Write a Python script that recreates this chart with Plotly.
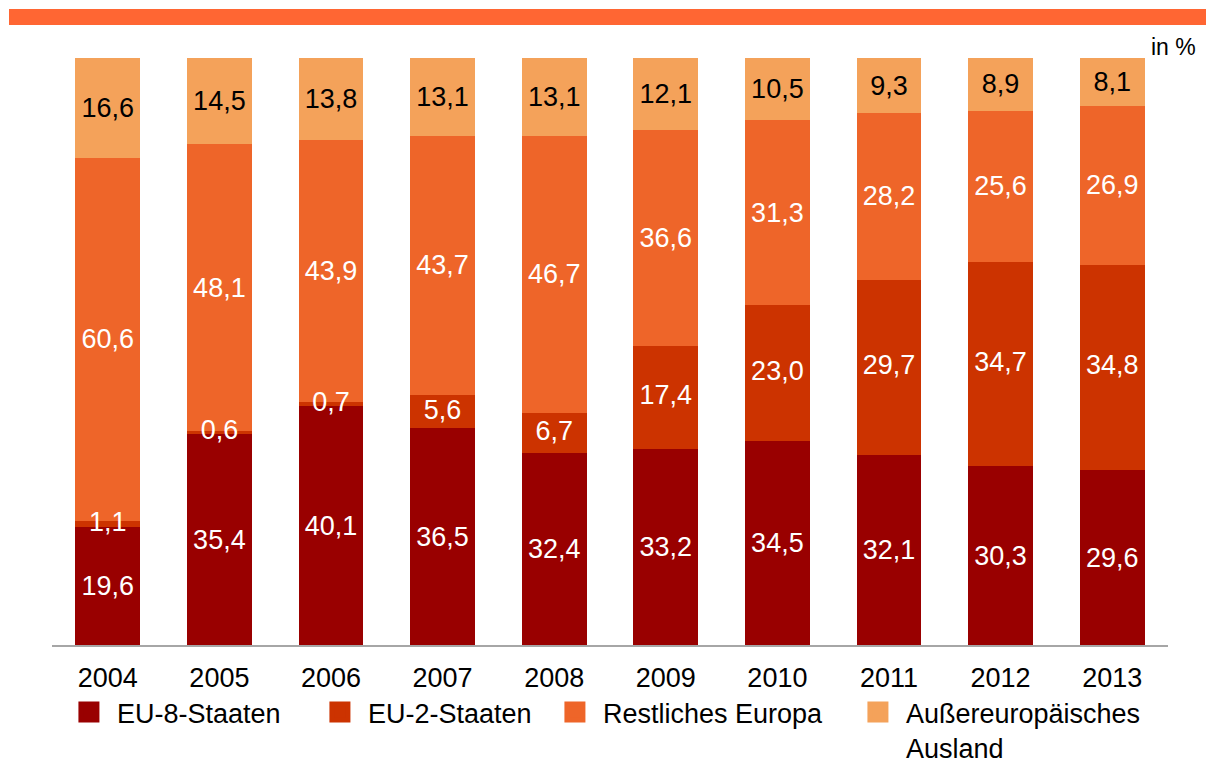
import plotly.graph_objects as go

years = ["2004", "2005", "2006", "2007", "2008", "2009", "2010", "2011", "2012", "2013"]
eu8 = [19.6, 35.4, 40.1, 36.5, 32.4, 33.2, 34.5, 32.1, 30.3, 29.6]
eu2 = [1.1, 0.6, 0.7, 5.6, 6.7, 17.4, 23.0, 29.7, 34.7, 34.8]
rest_europa = [60.6, 48.1, 43.9, 43.7, 46.7, 36.6, 31.3, 28.2, 25.6, 26.9]
ausser = [16.6, 14.5, 13.8, 13.1, 13.1, 12.1, 10.5, 9.3, 8.9, 8.1]

names = ["EU-8-Staaten", "EU-2-Staaten", "Restliches Europa", "Außereuropäisches<br>Ausland"]
colors = ["#990000", "#CC3300", "#EE6529", "#F4A25A"]
text_colors = ["white", "white", "white", "black"]
legend_widths = [190, 174, 242, 240]
series = [eu8, eu2, rest_europa, ausser]

FONT = "Liberation Sans, Arial, sans-serif"
FS = 27


def fmt(v):
    return f"{v:.1f}".replace(".", ",")


fig = go.Figure()
for i, (vals, col, tcol) in enumerate(zip(series, colors, text_colors)):
    small = i == 1  # thin EU-2 segments: label drawn on top in a separate layer
    fig.add_trace(go.Bar(
        x=years, y=vals, name=names[i], showlegend=False,
        marker=dict(color=col, line=dict(width=0)),
        text=None if small else [fmt(v) for v in vals],
        textposition="none" if small else "inside",
        insidetextanchor="middle", textangle=0, cliponaxis=False,
        insidetextfont=dict(color=tcol, size=FS, family=FONT),
        hoverinfo="skip",
    ))

# EU-2 labels on top of all bars (positions derived from the data, normalised like barnorm)
totals = [sum(s[j] for s in series) for j in range(len(years))]
eu2_mid = [(eu8[j] + eu2[j] / 2) / totals[j] * 100 for j in range(len(years))]
fig.add_trace(go.Scatter(
    x=years, y=eu2_mid, mode="text", text=[fmt(v) for v in eu2],
    textposition="middle center", textfont=dict(color="white", size=FS, family=FONT),
    showlegend=False, hoverinfo="skip", cliponaxis=False,
))

# legend entries with large square swatches
for name, col, lw in zip(names, colors, legend_widths):
    fig.add_trace(go.Scatter(
        x=[None], y=[None], mode="markers", name=name, legendwidth=lw,
        marker=dict(symbol="square", size=23, color=col, line=dict(color=col, width=5)),
        hoverinfo="skip",
    ))

fig.update_layout(
    width=1206, height=759,
    barmode="stack", barnorm="percent", bargap=0.42,
    margin=dict(l=52, r=38, t=58, b=114, autoexpand=False),
    paper_bgcolor="white", plot_bgcolor="white",
    font=dict(family=FONT, size=FS, color="black"),
    uniformtext=dict(minsize=FS, mode="show"),
    showlegend=True,
    legend=dict(orientation="h", x=0.008, xanchor="left", y=-0.0733, yanchor="top",
                font=dict(size=FS), traceorder="normal", itemsizing="trace",
                itemwidth=46, valign="top", bgcolor="rgba(0,0,0,0)"),
    xaxis=dict(showline=True, linecolor="#A6A6A6", linewidth=2, ticks="",
               showgrid=False, ticklabelstandoff=8, tickfont=dict(size=FS)),
    yaxis=dict(visible=False, range=[0, 100.01], showgrid=False),
    shapes=[dict(type="rect", xref="paper", yref="paper",
                 x0=(9 - 52) / 1116, x1=(1206 - 52) / 1116,
                 y0=(645 - 25) / 587, y1=(645 - 9) / 587,
                 fillcolor="#FF6633", line=dict(width=0), layer="above")],
    annotations=[dict(text="in %", xref="paper", yref="paper",
                      x=(1198 - 52) / 1116, y=(645 - 47) / 587,
                      xanchor="right", yanchor="middle", showarrow=False,
                      font=dict(size=23, family=FONT))],
)

fig.write_html("out.html", config={"displayModeBar": False},
               post_script="document.body.style.margin='0px';")
